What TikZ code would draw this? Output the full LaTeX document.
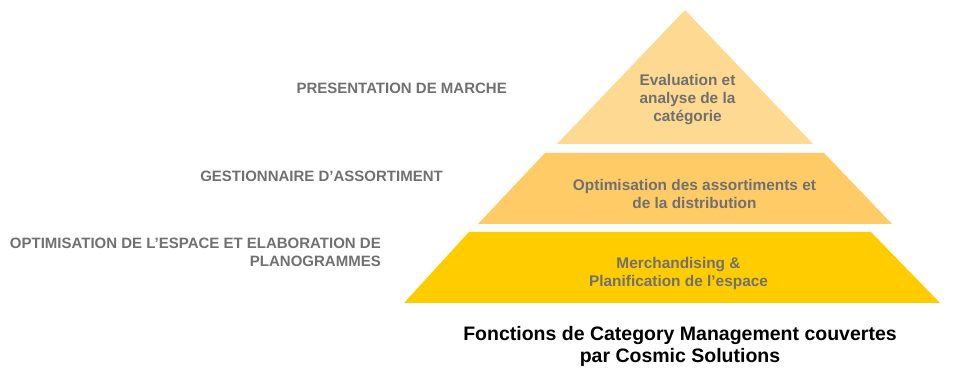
\documentclass[tikz,border=0pt]{standalone}
\usepackage{fontspec}
\setmainfont{Liberation Sans}
\definecolor{ctop}{RGB}{253,217,145}
\definecolor{cmid}{RGB}{254,203,102}
\definecolor{cbot}{RGB}{255,204,0}
\definecolor{txtgray}{RGB}{112,112,112}
\tikzset{
  lvl/.style={inner sep=0pt, align=center, text=txtgray, font=\fontsize{15.4}{18}\selectfont\bfseries},
  lbl/.style={inner sep=0pt, anchor=east, align=right, text=txtgray, font=\fontsize{15}{18}\selectfont\bfseries},
  ttl/.style={inner sep=0pt, align=center, text=black, font=\fontsize{19.5}{22}\selectfont\bfseries}
}
\begin{document}
\begin{tikzpicture}[x=1pt,y=-1pt]
\useasboundingbox (0,0) rectangle (954,374);
\fill[ctop] (685,10) -- (813,144) -- (557,144) -- cycle;
\fill[cmid] (545,153) -- (824,153) -- (892,224) -- (478,224) -- cycle;
\fill[cbot] (469,232) -- (871,232) -- (940,303) -- (404,303) -- cycle;
\node[lvl] (t1) at (687.5,100) {Evaluation et\\analyse de la\\catégorie};
\node[lvl] (t2) at (694.5,193.5) {Optimisation des assortiments et\\de la distribution};
\node[lvl] (t3) at (678.5,274) {Merchandising \&\\Planification de l’espace};
\node[lbl] (l1) at (507,88) {PRESENTATION DE MARCHE};
\node[lbl] (l2) at (443,176) {GESTIONNAIRE D’ASSORTIMENT};
\node[lbl] (l3) at (381,252) {OPTIMISATION DE L’ESPACE ET ELABORATION DE\\PLANOGRAMMES};
\node[ttl] (ti) at (680,346) {Fonctions de Category Management couvertes\\par Cosmic Solutions};
\end{tikzpicture}
\end{document}
